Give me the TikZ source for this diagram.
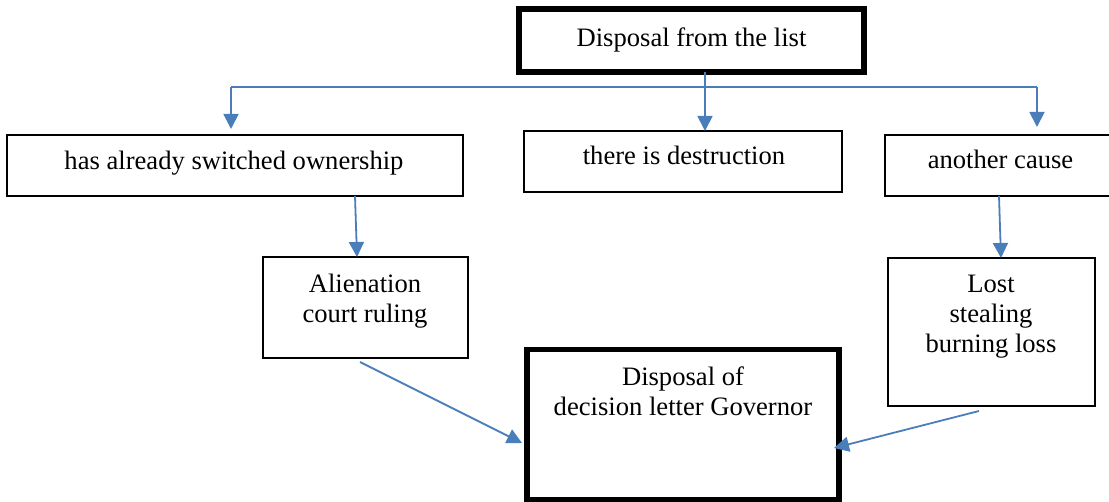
\documentclass[tikz,border=0pt]{standalone}
\usepackage{fontspec}
\setmainfont{Liberation Serif}
\usetikzlibrary{arrows.meta,calc}
\definecolor{flowblue}{HTML}{4A7EBB}
\begin{document}
\begin{tikzpicture}[x=1pt,y=-1pt,
  thinbox/.style={draw=black,line width=1.4pt,inner sep=0pt,outer sep=0pt},
  thickbox/.style={draw=black,line width=5.5pt,inner sep=0pt,outer sep=0pt},
  label text/.style={inner sep=0pt,outer sep=0pt,align=center,
    font=\fontsize{26.6}{30}\selectfont},
  flow/.style={draw=flowblue,line width=1.8pt,
    -{Triangle[width=15pt,length=15pt]}},
  busline/.style={draw=flowblue,line width=1.8pt}]
\useasboundingbox (0,0) rectangle (1109,502);

% boxes
\node[thickbox,minimum width=345pt,minimum height=63pt] (top) at (691.5,40.5) {};
\node[thinbox,minimum width=456pt,minimum height=61pt] (own) at (235,165.5) {};
\node[thinbox,minimum width=318pt,minimum height=61pt] (destr) at (683,161.5) {};
\node[thinbox,minimum width=227pt,minimum height=61pt] (cause) at (998.5,165.5) {};
\node[thinbox,minimum width=205pt,minimum height=101pt] (alien) at (365.5,307.5) {};
\node[thinbox,minimum width=207pt,minimum height=148pt] (lost) at (991.5,332) {};
\node[thickbox,minimum width=312pt,minimum height=150pt] (gov) at (683,424.5) {};

% texts
\node[label text,anchor=base] (topT) at (691.5,47) {Disposal from the list};
\node[label text,anchor=base] (ownT) at (234,170) {has already switched ownership};
\node[label text,anchor=base] (destrT) at (684,165) {there is destruction};
\node[label text,anchor=base] (causeT) at (1000.5,169) {another cause};
\node[label text,anchor=north] (alienT) at (365,273.8) {Alienation\\court ruling};
\node[label text,anchor=north] (lostT) at (991,275.4) {Lost\\stealing\\burning loss};
\node[label text,anchor=north] (govT) at (683,366.8) {Disposal of\\decision letter Governor};

% distribution line
\coordinate (busL) at (231,87);
\coordinate (busR) at (1037,87);
\coordinate (busM) at (705,87);
\draw[busline] (busL) -- (busR);
\draw[flow] (busM |- top.south) -- (busM |- destr.north);
\draw[flow,shorten >=6pt] (busL) -- (busL |- own.north);
\draw[flow,shorten >=8pt] (busR) -- (busR |- cause.north);

% lower connectors
\draw[flow] ($(own.south)+(120,0)$) -- ($(alien.north)+(-8.5,0)$);
\draw[flow] ($(cause.south)+(0.5,0)$) -- ($(lost.north)+(9.5,0)$);
\draw[flow] ($(alien.south)+(-5.5,4)$) -- ($(gov.west)+(-5,18.5)$);
\draw[flow] ($(lost.south)+(-12.5,5)$) -- ($(gov.east)+(-5,23.5)$);
\end{tikzpicture}
\end{document}
